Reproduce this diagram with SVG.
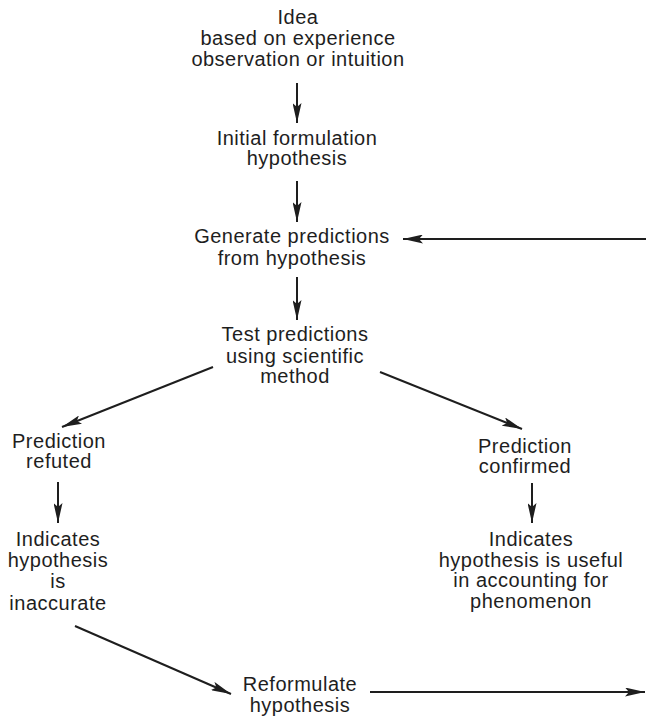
<svg xmlns="http://www.w3.org/2000/svg" width="646" height="717" viewBox="0 0 646 717">
  <style>
    text { font-family: "Liberation Sans", Arial, Helvetica, sans-serif; font-size: 20px; letter-spacing: 0.5px; fill: #1e1e1e; text-anchor: middle; }
    .conn { stroke: #1e1e1e; stroke-width: 2; fill: none; }
  </style>
  <defs>
    <marker id="head" viewBox="0 0 20 9" refX="20" refY="4.5" markerWidth="20" markerHeight="9" markerUnits="userSpaceOnUse" orient="auto">
      <path d="M0,0 L20,4.5 L0,9 L4,4.5 Z" fill="#1e1e1e"/>
    </marker>
  </defs>
  <rect width="646" height="717" fill="#ffffff"/>

  <g id="idea">
    <text x="298" y="24">Idea</text>
    <text x="298" y="45">based on experience</text>
    <text x="298" y="66">observation or intuition</text>
  </g>
  <g id="initial">
    <text x="297" y="145">Initial formulation</text>
    <text x="297" y="165">hypothesis</text>
  </g>
  <g id="generate">
    <text x="292" y="243">Generate predictions</text>
    <text x="292" y="265">from hypothesis</text>
  </g>
  <g id="test">
    <text x="295" y="341">Test predictions</text>
    <text x="295" y="363">using scientific</text>
    <text x="295" y="383">method</text>
  </g>
  <g id="refuted">
    <text x="59" y="448">Prediction</text>
    <text x="59" y="468">refuted</text>
  </g>
  <g id="inaccurate">
    <text x="58" y="546">Indicates</text>
    <text x="58" y="567">hypothesis</text>
    <text x="58" y="588">is</text>
    <text x="58" y="610">inaccurate</text>
  </g>
  <g id="confirmed">
    <text x="525" y="453">Prediction</text>
    <text x="525" y="473">confirmed</text>
  </g>
  <g id="useful">
    <text x="531" y="546">Indicates</text>
    <text x="531" y="567">hypothesis is useful</text>
    <text x="531" y="587">in accounting for</text>
    <text x="531" y="608">phenomenon</text>
  </g>
  <g id="reformulate">
    <text x="300" y="691">Reformulate</text>
    <text x="300" y="712">hypothesis</text>
  </g>

  <g id="connectors" class="conn">
    <line class="conn" x1="297" y1="83" x2="297" y2="123" marker-end="url(#head)"/>
    <line class="conn" x1="297" y1="181" x2="297" y2="222" marker-end="url(#head)"/>
    <line class="conn" x1="646" y1="239" x2="403" y2="239" marker-end="url(#head)"/>
    <line class="conn" x1="297" y1="277" x2="297" y2="320" marker-end="url(#head)"/>
    <line class="conn" x1="213" y1="367" x2="62" y2="427" marker-end="url(#head)"/>
    <line class="conn" x1="380" y1="372" x2="522" y2="429" marker-end="url(#head)"/>
    <line class="conn" x1="58" y1="482" x2="58" y2="523" marker-end="url(#head)"/>
    <line class="conn" x1="532" y1="483" x2="532" y2="523" marker-end="url(#head)"/>
    <line class="conn" x1="75" y1="626" x2="231" y2="694" marker-end="url(#head)"/>
    <line class="conn" x1="370" y1="692" x2="645" y2="692" marker-end="url(#head)"/>
  </g>
</svg>
